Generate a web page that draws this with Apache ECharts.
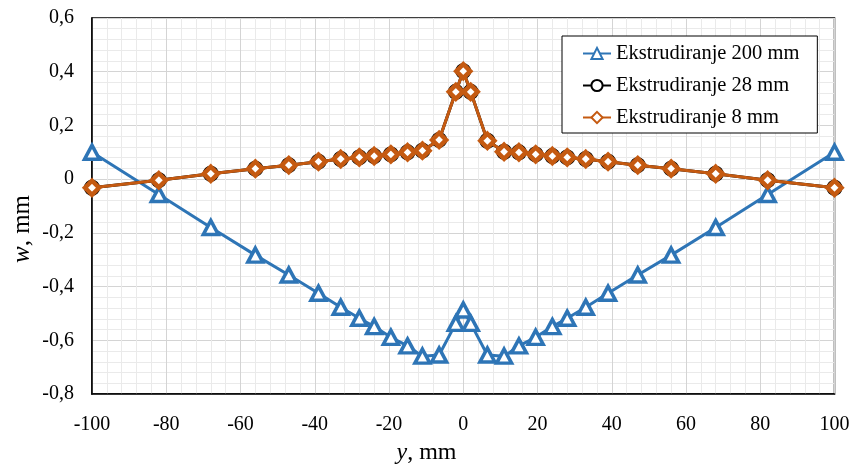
<!DOCTYPE html>
<html>
<head>
<meta charset="utf-8">
<script src="https://cdn.jsdelivr.net/npm/echarts@6/dist/echarts.min.js"></script>
<style>html,body{margin:0;padding:0;background:#fff}#c{width:853px;height:468px}</style>
</head>
<body>
<div id="c"></div>
<script>
const yPos = [-100,-82,-68,-56,-47,-39,-33,-28,-24,-19.5,-15,-11,-6.5,-2,0,2,6.5,11,15,19.5,24,28,33,39,47,56,68,82,100];
const w200 = [0.10,-0.057,-0.18,-0.283,-0.357,-0.425,-0.477,-0.518,-0.549,-0.589,-0.621,-0.659,-0.655,-0.537,-0.487,-0.537,-0.655,-0.659,-0.621,-0.589,-0.549,-0.518,-0.477,-0.425,-0.357,-0.283,-0.18,-0.057,0.10];
const w28 = [-0.032,-0.004,0.02,0.039,0.052,0.065,0.075,0.081,0.086,0.092,0.10,0.106,0.146,0.325,0.402,0.325,0.143,0.102,0.10,0.092,0.086,0.081,0.075,0.065,0.052,0.039,0.02,-0.004,-0.032];
const w8 = [-0.032,-0.004,0.02,0.039,0.052,0.065,0.075,0.081,0.086,0.092,0.10,0.106,0.146,0.325,0.402,0.325,0.143,0.102,0.10,0.092,0.086,0.081,0.075,0.065,0.052,0.039,0.02,-0.004,-0.032];
const seriesNames = ['Ekstrudiranje 200 mm','Ekstrudiranje 28 mm','Ekstrudiranje 8 mm'];
const xTitle = 'y';
const yTitle = 'w';
const unit = ', mm';

const font = 'Liberation Serif';
const pair = (xs, ys) => xs.map((x, i) => [x, ys[i]]);

const chart = echarts.init(document.getElementById('c'), null, {renderer: 'canvas'});
chart.setOption({
  animation: false,
  backgroundColor: '#fff',
  grid: {left: 92, right: 18.5, top: 18, bottom: 74, show: true, borderColor: '#000', borderWidth: 1.5, containLabel: false},
  xAxis: {
    type: 'value', min: -100, max: 100, interval: 20,
    axisLine: {show: true, onZero: false, lineStyle: {color: '#000', width: 1.5}},
    axisTick: {show: false},
    axisLabel: {color: '#000', fontFamily: font, fontSize: 20, margin: 21},
    splitLine: {show: true, lineStyle: {color: '#d4d4d4', width: 1}},
    minorTick: {show: false, splitNumber: 5},
    minorSplitLine: {show: true, lineStyle: {color: '#eaeaea', width: 1}}
  },
  yAxis: {
    type: 'value', min: -0.8, max: 0.6, interval: 0.2,
    axisLine: {show: true, onZero: false, lineStyle: {color: '#000', width: 1.5}},
    axisTick: {show: false},
    axisLabel: {color: '#000', fontFamily: font, fontSize: 20, margin: 18,
      formatter: v => Math.abs(v) < 1e-9 ? '0' : v.toFixed(1).replace('.', ',')},
    splitLine: {show: true, lineStyle: {color: '#d4d4d4', width: 1}},
    minorTick: {show: false, splitNumber: 5},
    minorSplitLine: {show: true, lineStyle: {color: '#eaeaea', width: 1}}
  },
  legend: {
    orient: 'vertical', left: 562, top: 36,
    backgroundColor: '#fff', borderColor: '#000', borderWidth: 1,
    padding: [7, 18, 5, 20], itemGap: 11, itemWidth: 28, itemHeight: 14,
    textStyle: {color: '#000', fontFamily: font, fontSize: 20.5, lineHeight: 21},
    data: seriesNames
  },
  series: [
    {name: seriesNames[0], type: 'line', data: pair(yPos, w200), z: 2,
     symbol: 'triangle', symbolSize: [15, 14],
     lineStyle: {color: '#2E75B6', width: 3},
     itemStyle: {color: '#fff', borderColor: '#2E75B6', borderWidth: 3.5}},
    {name: seriesNames[1], type: 'line', data: pair(yPos, w28), z: 3,
     symbol: 'circle', symbolSize: 13,
     lineStyle: {color: '#000', width: 3},
     itemStyle: {color: '#fff', borderColor: '#000', borderWidth: 3}},
    {name: seriesNames[2], type: 'line', data: pair(yPos, w8), z: 4,
     symbol: 'diamond', symbolSize: 14,
     lineStyle: {color: '#C55A11', width: 3},
     itemStyle: {color: '#fff', borderColor: '#C55A11', borderWidth: 4.5}}
  ],
  graphic: [
    {type: 'text', left: 'center', top: 441, z: 10,
     style: {text: '{i|' + xTitle + '}' + unit, fill: '#000', font: '24px "' + font + '"',
       rich: {i: {fontStyle: 'italic', fontFamily: font, fontSize: 24}}}},
    {type: 'text', x: 22, y: 229, rotation: Math.PI / 2, z: 10,
     style: {text: '{i|' + yTitle + '}' + unit, fill: '#000', font: '25px "' + font + '"', align: 'center', verticalAlign: 'middle',
       rich: {i: {fontStyle: 'italic', fontFamily: font, fontSize: 25}}}}
  ]
});
</script>
</body>
</html>
